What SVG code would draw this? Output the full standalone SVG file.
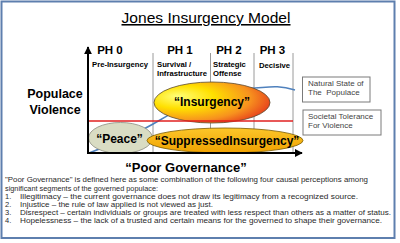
<svg xmlns="http://www.w3.org/2000/svg" width="400" height="243" viewBox="0 0 400 243">
<style>
  text { font-family: "Liberation Sans", Arial, sans-serif; fill: #000; }
  .ph { font-size: 11.5px; font-weight: bold; text-anchor: middle; }
  .sub { font-size: 7.7px; font-weight: bold; }
  .big { font-size: 12.5px; font-weight: bold; text-anchor: middle; }
  .el { font-size: 12px; font-weight: bold; text-anchor: middle; }
  .box { fill: #fff; stroke: #7a7a7a; stroke-width: 1; }
  .boxt { font-size: 8px; fill: #444; }
  .para { font-size: 7.5px; fill: #2a2a2a; }
  .grid { stroke: #9a9a9a; stroke-width: 1; }
</style>
<defs>
  <radialGradient id="gIns" cx="0.3" cy="0.4" r="0.8" fx="0.2" fy="0.35">
    <stop offset="0" stop-color="#ffff7a"/>
    <stop offset="0.35" stop-color="#ffe000"/>
    <stop offset="0.7" stop-color="#f7921e"/>
    <stop offset="1" stop-color="#e2261c"/>
  </radialGradient>
  <linearGradient id="gSup" x1="0" y1="0" x2="0" y2="1">
    <stop offset="0" stop-color="#fcc62a"/>
    <stop offset="1" stop-color="#f0a200"/>
  </linearGradient>
  <marker id="arr" viewBox="0 0 10 10" refX="9" refY="5" markerWidth="4" markerHeight="4" orient="auto" markerUnits="strokeWidth">
    <path d="M0,0 L10,5 L0,10 z" fill="#000"/>
  </marker>
</defs>
<rect x="0" y="0" width="400" height="243" fill="#fff"/>
<rect id="frame" x="1.5" y="1.5" width="393" height="236.5" fill="#fff" stroke="#5e7fae" stroke-width="2"/>

<g id="title">
  <text x="206" y="23" font-size="15.5" text-anchor="middle" text-decoration="underline" textLength="169" lengthAdjust="spacingAndGlyphs">Jones Insurgency Model</text>
</g>

<g id="phases">
  <text class="ph" x="110" y="54">PH 0</text>
  <text class="ph" x="180" y="54">PH 1</text>
  <text class="ph" x="229" y="54">PH 2</text>
  <text class="ph" x="272.5" y="54">PH 3</text>
  <text class="sub" x="120" y="67" text-anchor="middle">Pre-Insurgency</text>
  <text class="sub" x="157" y="67">Survival /</text>
  <text class="sub" x="157" y="76">Infrastructure</text>
  <text class="sub" x="213" y="67">Strategic</text>
  <text class="sub" x="213" y="76">Offense</text>
  <text class="sub" x="274.5" y="68" text-anchor="middle">Decisive</text>
</g>

<g id="grid">
  <line class="grid" x1="153" y1="53" x2="153" y2="153"/>
  <line class="grid" x1="210.5" y1="53" x2="210.5" y2="153"/>
  <line class="grid" x1="254" y1="53" x2="254" y2="153"/>
  <line class="grid" x1="293" y1="53" x2="293" y2="153"/>
</g>

<g id="ylabel">
  <text class="big" x="55" y="98">Populace</text>
  <text class="big" x="55" y="114">Violence</text>
</g>

<g id="connectors">
  <path id="natural-curve" d="M89,153 C110,145 135,135 160,120 S220,90 255,88 C270,87 278,85 295,90" fill="none" stroke="#4f81bd" stroke-width="1.5"/>
</g>

<g id="insurgency">
  <ellipse cx="212" cy="102.5" rx="58" ry="20.5" fill="url(#gIns)" stroke="#5a4a30" stroke-width="0.8"/>
  <text class="el" x="212" y="106">“Insurgency”</text>
</g>

<g id="tolerance-line">
  <line x1="88" y1="121" x2="293" y2="121" stroke="#e02020" stroke-width="1.3"/>
</g>

<g id="peace">
  <ellipse cx="120.5" cy="138" rx="32" ry="15.5" fill="#d9dcc3" stroke="#8c8c80" stroke-width="0.8"/>
  <text class="el" x="119.5" y="143" font-size="11.5">“Peace”</text>
</g>

<g id="suppressed">
  <ellipse cx="225" cy="140.5" rx="78" ry="12.5" fill="url(#gSup)" stroke="#7a5a00" stroke-width="0.8"/>
  <text class="el" x="227" y="144.5">“SuppressedInsurgency”</text>
</g>

<g id="axes">
  <line x1="88" y1="153" x2="88" y2="47" stroke="#000" stroke-width="2" marker-end="url(#arr)"/>
  <line x1="87" y1="153" x2="302" y2="153" stroke="#000" stroke-width="2" marker-end="url(#arr)"/>
</g>

<g id="natural-box">
  <rect class="box" x="302.5" y="77" width="67.5" height="25"/>
  <text class="boxt" x="308" y="86">Natural State of</text>
  <text class="boxt" x="308" y="95" xml:space="preserve">The  Populace</text>
</g>

<g id="tolerance-box">
  <rect class="box" x="303" y="110" width="78" height="25"/>
  <text class="boxt" x="308" y="119">Societal Tolerance</text>
  <text class="boxt" x="308" y="128">For Violence</text>
</g>

<g id="xlabel">
  <text x="186" y="172" font-size="13" font-weight="bold" text-anchor="middle">“Poor Governance”</text>
</g>

<g id="definition">
  <text class="para" x="5" y="182" textLength="363" lengthAdjust="spacingAndGlyphs">"Poor Governance" is defined here as some combination of the following four causal perceptions among</text>
  <text class="para" x="5" y="190.5" textLength="153" lengthAdjust="spacingAndGlyphs">significant segments of the governed populace:</text>
  <text class="para" x="5" y="198.5">1.</text>
  <text class="para" x="20" y="198.5" textLength="338" lengthAdjust="spacingAndGlyphs">Illegitimacy – the current governance does not draw its legitimacy from a recognized source.</text>
  <text class="para" x="5" y="206.5">2.</text>
  <text class="para" x="20" y="206.5" textLength="193" lengthAdjust="spacingAndGlyphs">Injustice – the rule of law applied is not viewed as just.</text>
  <text class="para" x="5" y="214.5">3.</text>
  <text class="para" x="20" y="214.5" textLength="371" lengthAdjust="spacingAndGlyphs">Disrespect – certain individuals or groups are treated with less respect than others as a matter of status.</text>
  <text class="para" x="5" y="222.5">4.</text>
  <text class="para" x="20" y="222.5" textLength="362" lengthAdjust="spacingAndGlyphs">Hopelessness – the lack of a trusted and certain means for the governed to shape their governance.</text>
</g>
</svg>
